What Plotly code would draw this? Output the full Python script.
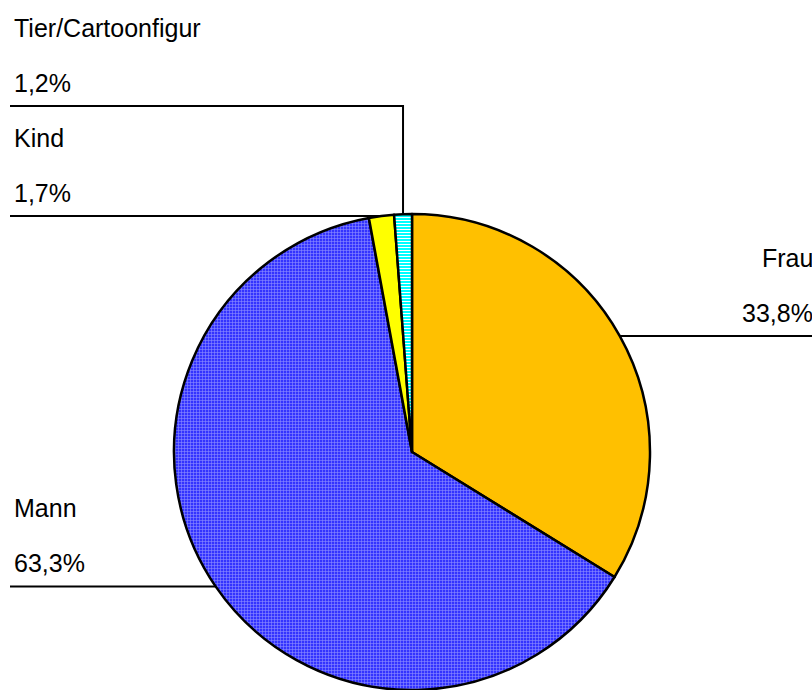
import math
import plotly.graph_objects as go

# Shares of the depicted figure type
labels = ["Frau", "Mann", "Kind", "Tier/Cartoonfigur"]
values = [33.8, 63.3, 1.7, 1.2]
value_text = ["33,8%", "63,3%", "1,7%", "1,2%"]
colors = ["#FFC000", "#3333FF", "#FFFF00", "#00FFFF"]
pattern_fg = ["#FFC000", "#8C8CFF", "#FFFF00", "#FFFFFF"]

W, H = 812, 690
dom_x = [174 / W, 650 / W]
dom_y = [0.0, 476 / H]

fig = go.Figure(go.Pie(
    labels=labels,
    values=values,
    sort=False,
    direction="clockwise",
    rotation=0,
    textinfo="none",
    hoverinfo="label+percent",
    showlegend=False,
    domain=dict(x=dom_x, y=dom_y),
    marker=dict(
        colors=colors,
        line=dict(color="#000000", width=2.5),
        pattern=dict(
            shape=["", "+", "", "-"],
            fillmode="replace",
            bgcolor=colors,
            fgcolor=pattern_fg,
            size=[4, 3, 4, 3],
            solidity=[0.3, 0.35, 0.3, 0.35],
        ),
    ),
))

# pie geometry in pixels (y measured from top)
cx = (dom_x[0] + dom_x[1]) / 2 * W
cy = H - (dom_y[0] + dom_y[1]) / 2 * H
r = min((dom_x[1] - dom_x[0]) * W, (dom_y[1] - dom_y[0]) * H) / 2

total = sum(values)
mids = []
acc = 0.0
for v in values:
    a = (acc + v / 2) / total * 2 * math.pi
    mids.append((cx + r * math.sin(a), cy - r * math.cos(a)))
    acc += v


def px(x, y):
    return x / W, 1 - y / H


shapes = []
annotations = []
left_x = 10
right_x = W
font = dict(family="Liberation Sans, Arial, sans-serif", size=25, color="#000000")


def add_line(pts):
    path = "M " + " L ".join(f"{px(x, y)[0]},{px(x, y)[1]}" for x, y in pts)
    shapes.append(dict(type="path", xref="paper", yref="paper", path=path,
                       line=dict(color="#000000", width=2)))


def add_text(name, pct, line_y, side):
    if side == "left":
        x, anchor, shift = (left_x + 2) / W, "left", 0
    else:
        x, anchor, shift = 1.0, "right", 3
    for txt, dy in ((name, 78), (pct, 23)):
        annotations.append(dict(text=txt, x=x, y=1 - (line_y - dy) / H,
                                xref="paper", yref="paper", xanchor=anchor,
                                yanchor="middle", xshift=shift,
                                showarrow=False, font=font))


# Frau: right side
fx, fy = mids[0]
add_line([(fx, fy), (right_x, fy)])
add_text(labels[0], value_text[0], fy, "right")

# Mann: left side
mx, my = mids[1]
add_line([(left_x, my), (mx, my)])
add_text(labels[1], value_text[1], my, "left")

# Kind: left, level with the slice edge
kx, ky = mids[2]
add_line([(left_x, ky), (kx, ky)])
add_text(labels[2], value_text[2], ky, "left")

# Tier/Cartoonfigur: elbow line raised above the Kind label
tx, ty = mids[3]
elbow_y = ky - 110
add_line([(tx, ty), (tx, elbow_y), (left_x, elbow_y)])
add_text(labels[3], value_text[3], elbow_y, "left")

fig.update_layout(
    width=W, height=H,
    margin=dict(l=0, r=0, t=0, b=0),
    paper_bgcolor="#FFFFFF",
    plot_bgcolor="#FFFFFF",
    shapes=shapes,
    annotations=annotations,
)

fig.write_html("out.html")
